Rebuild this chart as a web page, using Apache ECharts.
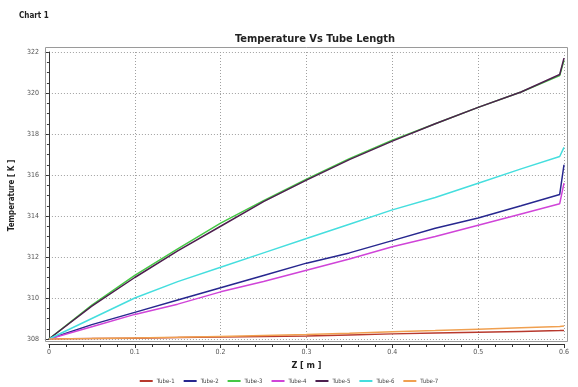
<!DOCTYPE html>
<html><head><meta charset="utf-8">
<script src="https://cdn.jsdelivr.net/npm/echarts@6/dist/echarts.min.js"></script>
<style>html,body{margin:0;padding:0;background:#fff}#c{width:578px;height:387px}</style>
</head><body><div id="c"></div>
<script>
var zValues = [0, 0.05, 0.1, 0.15, 0.2, 0.25, 0.3, 0.35, 0.4, 0.45, 0.5, 0.55, 0.595, 0.6];
var tubeNames = ['Tube-1','Tube-2','Tube-3','Tube-4','Tube-5','Tube-6','Tube-7'];
var tube1 = [308, 308.02, 308.04, 308.07, 308.1, 308.12, 308.15, 308.2, 308.25, 308.29, 308.33, 308.37, 308.41, 308.42];
var tube2 = [308, 308.7, 309.3, 309.9, 310.5, 311.1, 311.7, 312.2, 312.8, 313.4, 313.9, 314.5, 315.05, 316.5];
var tube3 = [308, 309.65, 311.1, 312.4, 313.65, 314.75, 315.8, 316.8, 317.7, 318.5, 319.3, 320.05, 320.85, 321.6];
var tube4 = [308, 308.6, 309.2, 309.7, 310.3, 310.8, 311.35, 311.9, 312.5, 313.0, 313.55, 314.1, 314.6, 315.6];
var tube5 = [308, 309.6, 311.0, 312.3, 313.5, 314.7, 315.75, 316.75, 317.65, 318.5, 319.3, 320.05, 320.9, 321.7];
var tube6 = [308, 309.0, 310.0, 310.8, 311.5, 312.2, 312.9, 313.6, 314.3, 314.9, 315.6, 316.3, 316.9, 317.35];
var tube7 = [308, 308.02, 308.05, 308.08, 308.12, 308.17, 308.22, 308.28, 308.35, 308.41, 308.48, 308.55, 308.61, 308.63];
var yTicks = [308, 310, 312, 314, 316, 318, 320, 322];
var xTicks = [0, 0.1, 0.2, 0.3, 0.4, 0.5, 0.6];

var colors = ['#b8392d', '#27278f', '#45c845', '#d044d8', '#4e1f4e', '#45dede', '#f0a050'];
var allTubes = [tube1, tube2, tube3, tube4, tube5, tube6, tube7];
var FONT = 'DejaVu Sans Condensed, DejaVu Sans, sans-serif';

var series = allTubes.map(function (t, i) {
  return {
    name: tubeNames[i], type: 'line', showSymbol: false, symbol: 'none',
    data: zValues.map(function (z, k) { return [z, t[k]]; }),
    lineStyle: { width: 1.5, color: colors[i] }, itemStyle: { color: colors[i] },
    z: 2 + i
  };
});

var chart = echarts.init(document.getElementById('c'), null, { renderer: 'canvas' });
chart.setOption({
  animation: false,
  backgroundColor: '#fff',
  title: [
    { text: 'Chart 1', left: 14, top: 7, textStyle: { fontSize: 8, fontWeight: 'bold', color: '#222', fontFamily: FONT } },
    { text: 'Temperature Vs Tube Length', left: 310, textAlign: 'center', top: 29, textStyle: { fontSize: 11, fontWeight: 'bold', color: '#222', fontFamily: FONT } }
  ],
  graphic: [{
    type: 'rect', shape: { x: 45.5, y: 47.5, width: 522, height: 294 },
    style: { fill: 'none', stroke: '#9a9a9a', lineWidth: 1 }, z: 1, silent: true
  }],
  legend: {
    top: 373, left: 'center', itemWidth: 13, itemHeight: 2, itemGap: 9,
    icon: 'rect',
    textStyle: { fontSize: 6, color: '#444', fontFamily: FONT, padding: [0, 0, 0, -1] },
    data: tubeNames
  },
  grid: { left: 48, right: 14, top: 52, bottom: 48 },
  xAxis: {
    type: 'value', min: 0, max: 0.6, interval: 0.1, offset: 5,
    name: 'Z [ m ]', nameLocation: 'middle', nameGap: 15,
    nameTextStyle: { fontSize: 9, fontWeight: 'bold', color: '#222', fontFamily: FONT },
    axisLine: { show: true, lineStyle: { color: '#333', width: 1 } },
    axisTick: { show: true, length: 4, lineStyle: { color: '#333' } },
    minorTick: { show: true, splitNumber: 5, length: 3, lineStyle: { color: '#333' } },
    axisLabel: { fontSize: 7, color: '#555', margin: 5, fontFamily: FONT,
      formatter: function (v) { return xTicks.indexOf(Math.round(v * 10) / 10) >= 0 ? String(Math.round(v * 10) / 10) : ''; } },
    splitLine: { show: true, lineStyle: { color: '#a0a0a0', type: [1, 2], width: 1 } }
  },
  yAxis: {
    type: 'value', min: 308, max: 322, interval: 2, offset: 6,
    name: 'Temperature [ K ]', nameLocation: 'middle', nameGap: 24, nameRotate: 90,
    nameTextStyle: { fontSize: 8, fontWeight: 'bold', color: '#222', fontFamily: FONT },
    axisLine: { show: true, lineStyle: { color: '#333', width: 1 } },
    axisTick: { show: true, length: 4, lineStyle: { color: '#333' } },
    minorTick: { show: true, splitNumber: 4, length: 2, lineStyle: { color: '#333' } },
    axisLabel: { fontSize: 7, color: '#555', margin: 4, fontFamily: FONT,
      formatter: function (v) { return yTicks.indexOf(v) >= 0 ? String(v) : ''; } },
    splitLine: { show: true, lineStyle: { color: '#a0a0a0', type: [1, 2], width: 1 } }
  },
  series: series
});
</script></body></html>
